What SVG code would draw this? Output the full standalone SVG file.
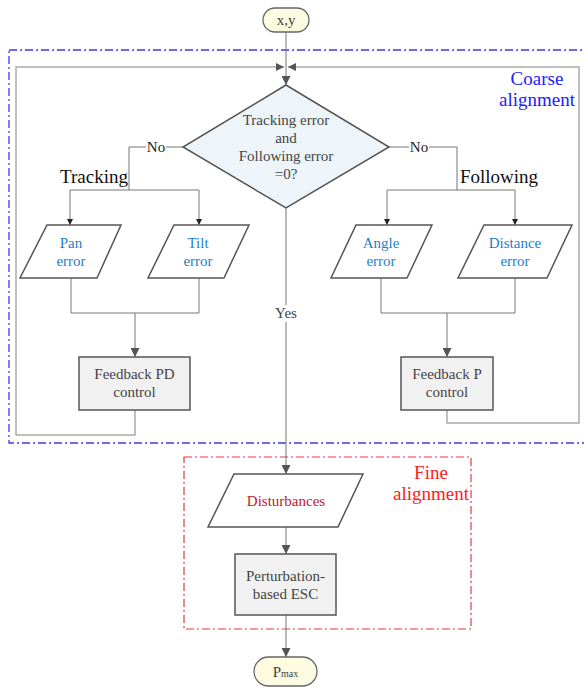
<svg xmlns="http://www.w3.org/2000/svg" width="584" height="687" viewBox="0 0 584 687" font-family="Liberation Serif, DejaVu Serif, serif">
<defs>
<marker id="ah" markerUnits="userSpaceOnUse" markerWidth="9" markerHeight="9" viewBox="0 0 9 9" refX="9" refY="4.5" orient="auto">
<path d="M0,0 L9,4.5 L0,9 z" fill="#555"/>
</marker>
<marker id="as" markerUnits="userSpaceOnUse" markerWidth="6" markerHeight="6" viewBox="0 0 6 6" refX="6" refY="3" orient="auto">
<path d="M0,0 L6,3 L0,6 z" fill="#222"/>
</marker>
<marker id="ai" markerUnits="userSpaceOnUse" markerWidth="8" markerHeight="8" viewBox="0 0 8 8" refX="8" refY="4" orient="auto">
<path d="M0,0 L8,4 L0,8 z" fill="#555"/>
</marker>
</defs>
<style>
.t{fill:#444;font-size:15px;text-anchor:middle;}
.lb{fill:#222;font-size:15px;text-anchor:middle;}
.big{fill:#111;font-size:19px;text-anchor:middle;}
.blue{fill:#1f7fc8;font-size:15px;text-anchor:middle;}
.term{fill:#fdfce0;stroke:#666;stroke-width:1.3;}
.proc{fill:#f1f1f1;stroke:#555;stroke-width:1.5;}
.io{fill:#fff;stroke:#555;stroke-width:1.5;}
.con{fill:none;stroke:#777;stroke-width:1;}
.loop{fill:none;stroke:#aaa;stroke-width:1.5;}
</style>

<g id="coarse-region">
<rect x="9" y="50" width="590" height="393" fill="none" stroke="#3a3af0" stroke-width="1.3" stroke-dasharray="8 3 2 3"/>
<text x="537" y="85" font-family="Liberation Serif, DejaVu Serif, serif" style="font-size:19px;fill:#2020ff;text-anchor:middle">Coarse</text>
<text x="537" y="106" font-family="Liberation Serif, DejaVu Serif, serif" style="font-size:19px;fill:#2020ff;text-anchor:middle">alignment</text>
</g>
<g id="fine-region">
<rect x="184" y="457" width="287" height="172" fill="none" stroke="#e83a3a" stroke-width="1.2" stroke-dasharray="8 3 2 3"/>
<text x="431" y="479" font-family="Liberation Serif, DejaVu Serif, serif" style="font-size:19px;fill:#ff2020;text-anchor:middle">Fine</text>
<text x="431" y="500" font-family="Liberation Serif, DejaVu Serif, serif" style="font-size:19px;fill:#ff2020;text-anchor:middle">alignment</text>
</g>

<g id="connectors" font-family="Liberation Serif, DejaVu Serif, serif">
<path class="loop" d="M135,410 V435 H16 V67 H284" marker-end="url(#ai)"/>
<path class="loop" d="M447,410 V423 H579 V67 H288" marker-end="url(#ai)"/>
<path class="con" d="M286,32 V85" marker-end="url(#ah)"/>
<path class="con" d="M183,147 H129 V190 H70 V225" marker-end="url(#as)"/>
<path class="con" d="M129,190 H199 V225" marker-end="url(#as)"/>
<path class="con" d="M389,147 H457 V190 H387 V225" marker-end="url(#as)"/>
<path class="con" d="M457,190 H515 V225" marker-end="url(#as)"/>
<path class="con" d="M71,278 V313 H199 V278"/>
<path class="con" d="M135,313 V357" marker-end="url(#ah)"/>
<path class="con" d="M381,278 V313 H515 V278"/>
<path class="con" d="M447,313 V357" marker-end="url(#ah)"/>
<path class="con" d="M286,208 V474" marker-end="url(#ah)"/>
<path class="con" d="M286,527 V554" marker-end="url(#ah)"/>
<path class="con" d="M286,615 V657" marker-end="url(#ah)"/>
<rect x="146" y="139" width="20" height="16" fill="#fff"/>
<text class="lb" x="156" y="152">No</text>
<rect x="409" y="139" width="20" height="16" fill="#fff"/>
<text class="lb" x="419" y="152">No</text>
<rect x="273" y="305" width="26" height="17" fill="#fff"/>
<text class="lb" x="286" y="318" style="fill:#444">Yes</text>
<text class="big" x="94" y="183">Tracking</text>
<text class="big" x="499" y="183">Following</text>
</g>

<g id="start" font-family="Liberation Serif, DejaVu Serif, serif">
<rect class="term" x="263" y="8" width="46" height="24" rx="12"/>
<text class="t" x="286" y="25">x,y</text>
</g>
<g id="decision" font-family="Liberation Serif, DejaVu Serif, serif">
<path d="M286,85 L389,147 L286,208 L183,147 Z" fill="#edf5fb" stroke="#555" stroke-width="1.5"/>
<text class="t" x="286" y="125">Tracking error</text>
<text class="t" x="286" y="143">and</text>
<text class="t" x="286" y="161">Following error</text>
<text class="t" x="286" y="179">=0?</text>
</g>
<g id="pan" font-family="Liberation Serif, DejaVu Serif, serif">
<path class="io" d="M47,225 H121 L97,278 H20 Z"/>
<text class="blue" x="71" y="248">Pan</text>
<text class="blue" x="71" y="266">error</text>
</g>
<g id="tilt" font-family="Liberation Serif, DejaVu Serif, serif">
<path class="io" d="M174,225 H249 L224,278 H148 Z"/>
<text class="blue" x="198" y="248">Tilt</text>
<text class="blue" x="198" y="266">error</text>
</g>
<g id="angle" font-family="Liberation Serif, DejaVu Serif, serif">
<path class="io" d="M356,225 H432 L407,278 H331 Z"/>
<text class="blue" x="381" y="248">Angle</text>
<text class="blue" x="381" y="266">error</text>
</g>
<g id="distance" font-family="Liberation Serif, DejaVu Serif, serif">
<path class="io" d="M484,225 H572 L547,278 H458 Z"/>
<text class="blue" x="515" y="248">Distance</text>
<text class="blue" x="515" y="266">error</text>
</g>
<g id="feedback-pd" font-family="Liberation Serif, DejaVu Serif, serif">
<rect class="proc" x="79" y="357" width="111" height="53"/>
<text class="t" x="134.5" y="379">Feedback PD</text>
<text class="t" x="134.5" y="397">control</text>
</g>
<g id="feedback-p" font-family="Liberation Serif, DejaVu Serif, serif">
<rect class="proc" x="401" y="357" width="92" height="53"/>
<text class="t" x="447" y="379">Feedback P</text>
<text class="t" x="447" y="397">control</text>
</g>
<g id="disturbances" font-family="Liberation Serif, DejaVu Serif, serif">
<path class="io" d="M234,474 H363 L338,527 H208 Z"/>
<text x="286" y="506" style="font-size:15px;fill:#c0202a;text-anchor:middle">Disturbances</text>
</g>
<g id="esc" font-family="Liberation Serif, DejaVu Serif, serif">
<rect class="proc" x="235" y="554" width="101" height="61"/>
<text class="t" x="285.5" y="581">Perturbation-</text>
<text class="t" x="285.5" y="599">based ESC</text>
</g>
<g id="pmax" font-family="Liberation Serif, DejaVu Serif, serif">
<rect class="term" x="254" y="657" width="63" height="29" rx="14.5"/>
<text class="t" x="285.5" y="677">P<tspan style="font-size:10px">max</tspan></text>
</g>
</svg>
